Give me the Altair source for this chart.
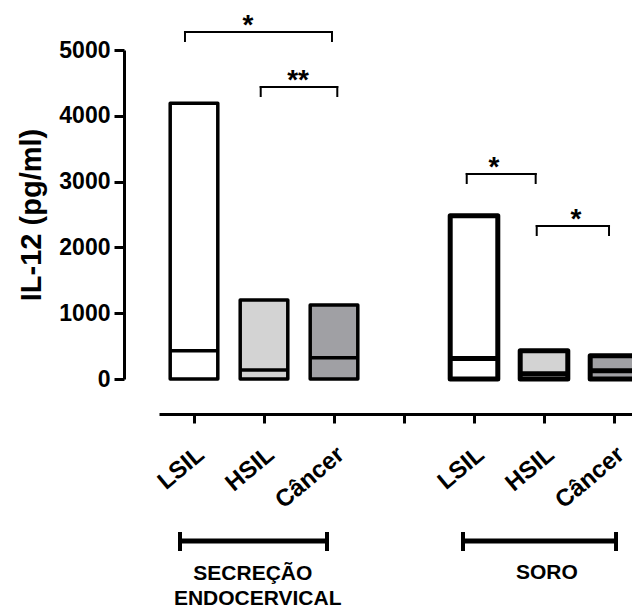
import altair as alt
import pandas as pd

# ---------------- data ----------------
categories = ["LSIL", "HSIL", "Câncer"]
groups = ["SECREÇÃO ENDOCERVICAL", "SORO"]
sec_min = [0, 0, 0]
sec_max = [4190, 1200, 1125]
sec_median = [430, 137, 324]
soro_min = [0, 0, 0]
soro_max = [2480, 429, 353]
soro_median = [312, 80, 125]
fill_colors = ["#ffffff", "#d3d3d3", "#a0a0a4"]
y_ticks = [0, 1000, 2000, 3000, 4000, 5000]

# significance brackets (data units)
sig_x1 = [0.871, 1.953, 4.896, 5.896]
sig_x2 = [2.971, 3.047, 5.881, 6.929]
sig_y = [5274, 4438, 3116, 2325]
sig_drop = 137
sig_text = ["*", "**", "*", "*"]
sig_text_x = [1.771, 2.486, 5.286, 6.457]

# group brackets under the axis (data units)
grp_x1 = [0.80, 4.843]
grp_x2 = [2.90, 7.029]
grp_y = [-2462, -2462]
grp_cap = [-2325, -2614]
grp_label = ["SECREÇÃO", "ENDOCERVICAL", "SORO"]
grp_label_x = [1.84, 1.91, 6.04]
grp_label_y = [-2964, -3343, -2948]

# ---------------- tables ----------------
half = 0.34
rows = []
for gi, (g, mins, maxs, meds) in enumerate(
    [(groups[0], sec_min, sec_max, sec_median), (groups[1], soro_min, soro_max, soro_median)]
):
    for ci, c in enumerate(categories):
        pos = gi * 4 + ci + 1
        rows.append(dict(group=g, cat=c, pos=pos, left=pos - half, right=pos + half,
                         lo=mins[ci], hi=maxs[ci], med=meds[ci]))
df = pd.DataFrame(rows)

seg = []
for x1, x2, y in zip(sig_x1, sig_x2, sig_y):
    seg.append(dict(x=x1, x2=x2, y=y, y2=y))
    seg.append(dict(x=x1, x2=x1, y=y, y2=y - sig_drop))
    seg.append(dict(x=x2, x2=x2, y=y, y2=y - sig_drop))
seg_df = pd.DataFrame(seg)
star_df = pd.DataFrame(dict(x=sig_text_x, y=sig_y, t=sig_text))

gh = pd.DataFrame(dict(x=grp_x1, x2=grp_x2, y=grp_y))
gc = pd.DataFrame(dict(x=grp_x1 + grp_x2))
gc["y"] = grp_cap[0]
gc["y2"] = grp_cap[1]
gl = pd.DataFrame(dict(x=grp_label_x, y=grp_label_y, t=grp_label))

# ---------------- scales / axes ----------------
FONT = "Liberation Sans"
PLOT_W = 473
xscale = alt.Scale(domain=[0.5, 0.5 + PLOT_W / 70], nice=False, zero=False)
yscale = alt.Scale(domain=[0, 5000], nice=False, zero=False)

label_map = {1: "LSIL", 2: "HSIL", 3: "Câncer", 5: "LSIL", 6: "HSIL", 7: "Câncer"}
expr = " : ".join(f"datum.value == {k} ? '{v}'" for k, v in label_map.items()) + " : ''"

xaxis = alt.Axis(values=[1, 2, 3, 4, 5, 6, 7], labelExpr=expr, labelAngle=-40,
                 labelAlign="right", labelBaseline="top", labelFontSize=24,
                 labelFont=FONT, labelFontWeight="bold", labelColor="black",
                 labelPadding=19, labelOffset=-1, tickSize=9, tickWidth=3, tickColor="black",
                 domainWidth=3, domainColor="black", offset=35, grid=False,
                 title=None, labelFlush=False, labelOverlap=False)
yaxis = alt.Axis(values=y_ticks, format="d", labelFontSize=23, labelFont=FONT,
                 labelFontWeight="bold", labelColor="black", labelPadding=4,
                 tickSize=10, tickWidth=3, tickColor="black", domainWidth=3,
                 domainColor="black", offset=35, grid=False, title="IL-12 (pg/ml)",
                 titleFont=FONT, titleFontSize=29, titleFontWeight="bold",
                 titleColor="black", titlePadding=12)

sw_scale = alt.Scale(domain=groups, range=[3.5, 5])
bars = alt.Chart(df).mark_bar(stroke="black", strokeJoin="round").encode(
    x=alt.X("left:Q", scale=xscale, axis=xaxis),
    x2="right:Q",
    y=alt.Y("lo:Q", scale=yscale, axis=yaxis),
    y2="hi:Q",
    fill=alt.Fill("cat:N", scale=alt.Scale(domain=categories, range=fill_colors), legend=None),
    strokeWidth=alt.StrokeWidth("group:N", scale=sw_scale, legend=None),
)
medians = alt.Chart(df).mark_rule(color="black").encode(
    x="left:Q", x2="right:Q", y="med:Q",
    strokeWidth=alt.StrokeWidth("group:N", scale=sw_scale, legend=None),
)
brackets = alt.Chart(seg_df).mark_rule(color="black", strokeWidth=2, strokeCap="square").encode(
    x="x:Q", x2="x2:Q", y="y:Q", y2="y2:Q")
stars = alt.Chart(star_df).mark_text(font=FONT, fontSize=28, fontWeight="bold", baseline="alphabetic",
                                      align="center", dy=2, color="black").encode(
    x="x:Q", y="y:Q", text="t:N")
ghl = alt.Chart(gh).mark_rule(color="black", strokeWidth=5).encode(x="x:Q", x2="x2:Q", y="y:Q")
gcl = alt.Chart(gc).mark_rule(color="black", strokeWidth=4).encode(x="x:Q", y="y:Q", y2="y2:Q")
gtl = alt.Chart(gl).mark_text(font=FONT, fontSize=21, fontWeight="bold", baseline="middle",
                               align="center", color="black").encode(x="x:Q", y="y:Q", text="t:N")

chart = alt.layer(bars, medians, brackets, stars, ghl, gcl, gtl).properties(
    width=PLOT_W, height=329,
    autosize=alt.AutoSizeParams(type="none"),
    padding={"left": 151, "top": 42, "right": 0, "bottom": 229},
).configure_view(stroke=None)

chart.save("out.html", embed_options={"renderer": "svg", "actions": False})
